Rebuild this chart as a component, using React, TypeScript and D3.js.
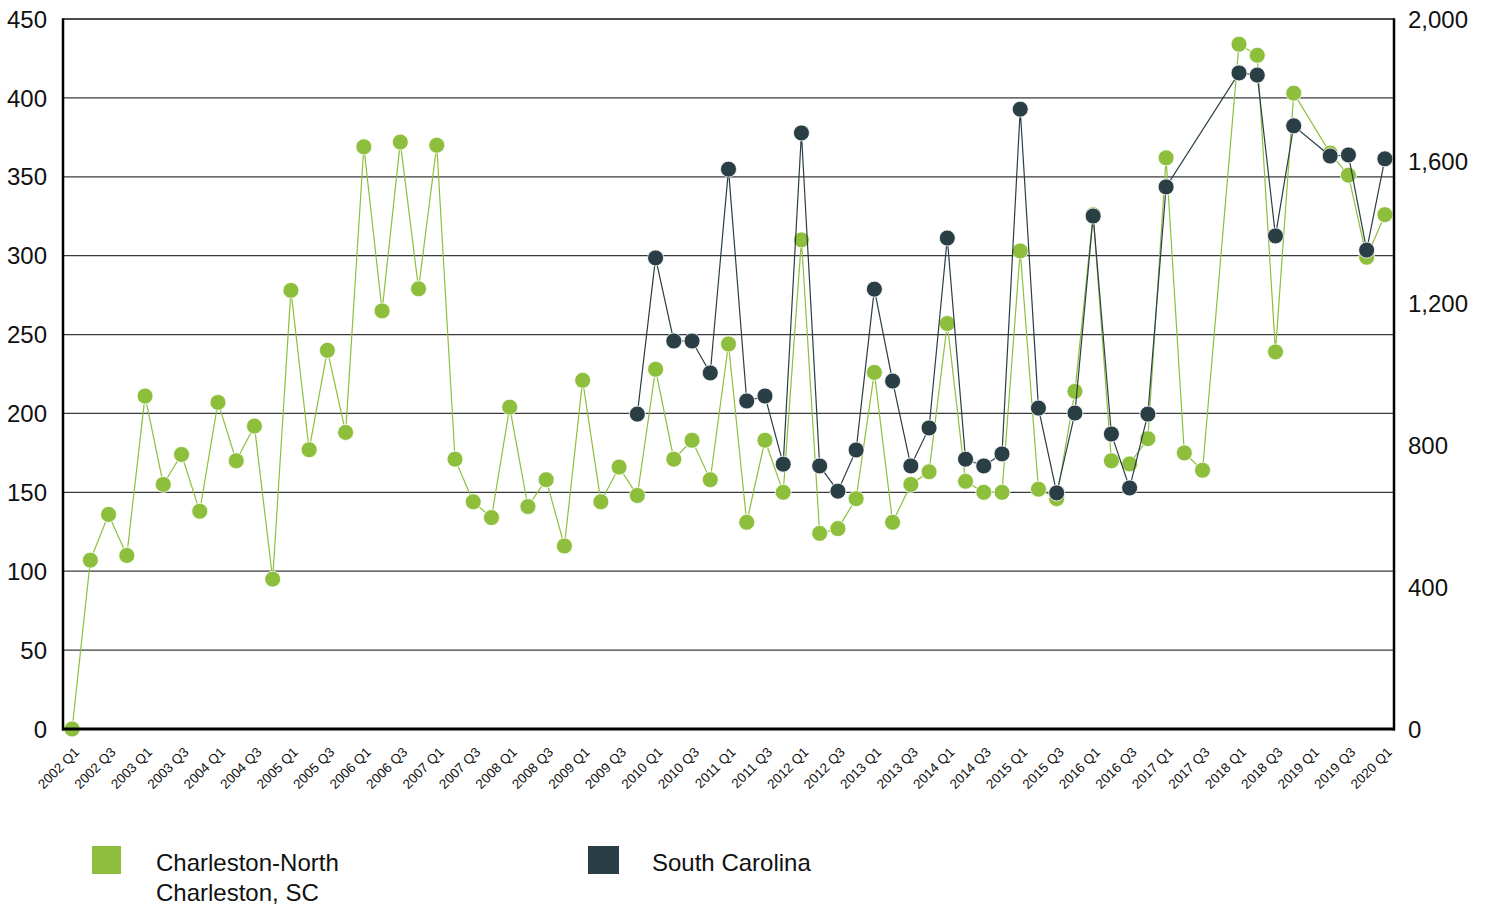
import * as d3 from 'd3';
import React from 'react';

// quarters 2002 Q1 .. 2020 Q1
const years = d3.range(2002, 2021);
const quarters = ['Q1', 'Q2', 'Q3', 'Q4'];
const categories: string[] = years
    .flatMap((y) => quarters.map((q) => `${y} ${q}`))
    .filter((c) => c <= '2020 Q1');

// Charleston-North Charleston, SC (left axis)
const charleston: (number | null)[] = [
    0, 107, 136, 110, 211, 155, 174, 138, 207, 170, 192, 95,
    278, 177, 240, 188, 369, 265, 372, 279, 370, 171, 144, 134,
    204, 141, 158, 116, 221, 144, 166, 148, 228, 171, 183, 158,
    244, 131, 183, 150, 310, 124, 127, 146, 226, 131, 155, 163,
    257, 157, 150, 150, 303, 152, 146, 214, 326, 170, 168, 184,
    362, 175, 164, null, 434, 427, 239, 403, null, 365, 351, 299,
    326,
];

// South Carolina (right axis)
const southCarolina: (number | null)[] = [
    null, null, null, null, null, null, null, null, null, null, null, null,
    null, null, null, null, null, null, null, null, null, null, null, null,
    null, null, null, null, null, null, null, 887, 1327, 1093, 1093, 1003,
    1577, 924, 938, 746, 1679, 741, 670, 786, 1239, 980, 741, 848,
    1383, 760, 741, 775, 1746, 904, 665, 890, 1445, 831, 679, 887,
    1527, null, null, null, 1848, 1842, 1389, 1699, null, 1614, 1617, 1349,
    1606,
];

const leftTicks = [0, 50, 100, 150, 200, 250, 300, 350, 400, 450];
const rightTicks = [0, 400, 800, 1200, 1600, 2000];

const GREEN = '#8dbf3d';
const DARK = '#2a3e46';
const FONT = 'Liberation Sans, Arial, sans-serif';

type Pt = { c: string; v: number };

const App: React.FC = () => {
    const width = 1486;
    const height = 907;
    const left = 63;
    const right = 1394;
    const top = 19;
    const bottom = 729;

    const x = d3.scalePoint<string>().domain(categories).range([left, right]).padding(0.5);
    const yL = d3.scaleLinear().domain([0, 450]).range([bottom, top]);
    const yR = d3.scaleLinear().domain([0, 2000]).range([bottom, top]);

    const pts = (arr: (number | null)[]): Pt[] =>
        arr
            .map((v, i) => ({ c: categories[i], v }))
            .filter((d): d is Pt => d.v !== null && d.v !== undefined);

    const gPts = pts(charleston);
    const sPts = pts(southCarolina);

    const lineL = d3
        .line<Pt>()
        .x((d) => x(d.c) ?? 0)
        .y((d) => yL(d.v));
    const lineR = d3
        .line<Pt>()
        .x((d) => x(d.c) ?? 0)
        .y((d) => yR(d.v));

    const fmt = d3.format(',');

    return (
        <svg
            width={width}
            height={height}
            style={{ position: 'absolute', left: 0, top: 0, background: '#fff' }}
            fontFamily={FONT}
        >
            {/* gridlines */}
            {leftTicks.slice(1, -1).map((t) => (
                <line key={t} x1={left} x2={right} y1={yL(t)} y2={yL(t)} stroke="#3a3a3a" strokeWidth={1.2} />
            ))}
            <line x1={left} x2={right} y1={top} y2={top} stroke="#111" strokeWidth={1.6} />

            {/* left labels */}
            {leftTicks.map((t) => (
                <text key={t} x={47} y={yL(t)} dy="0.36em" textAnchor="end" fontSize={24} fill="#111">
                    {t}
                </text>
            ))}
            {/* right labels */}
            {rightTicks.map((t) => (
                <text key={t} x={1408} y={yR(t)} dy="0.36em" textAnchor="start" fontSize={24} fill="#111">
                    {fmt(t)}
                </text>
            ))}

            {/* x labels */}
            {categories.map((c, i) =>
                i % 2 === 0 ? (
                    <text
                        key={c}
                        transform={`translate(${(x(c) ?? 0) + 8},${bottom + 24}) rotate(-45)`}
                        textAnchor="end"
                        fontSize={13.5}
                        fill="#111"
                    >
                        {c}
                    </text>
                ) : null
            )}

            {/* Charleston */}
            <path d={lineL(gPts) ?? ''} fill="none" stroke={GREEN} strokeWidth={1.2} />
            {gPts.map((d) => (
                <circle key={d.c} cx={x(d.c)} cy={yL(d.v)} r={8} fill={GREEN} stroke="#fff" strokeWidth={0.8} />
            ))}

            {/* South Carolina */}
            <path d={lineR(sPts) ?? ''} fill="none" stroke={DARK} strokeWidth={1.2} />
            {sPts.map((d) => (
                <circle key={d.c} cx={x(d.c)} cy={yR(d.v)} r={8} fill={DARK} stroke="#fff" strokeWidth={0.8} />
            ))}

            {/* axes frame */}
            <line x1={left} x2={left} y1={top - 0.8} y2={bottom + 1.5} stroke="#000" strokeWidth={2.5} />
            <line x1={right} x2={right} y1={top - 0.8} y2={bottom + 1.5} stroke="#000" strokeWidth={2.5} />
            <line x1={left - 1} x2={right + 1} y1={bottom} y2={bottom} stroke="#000" strokeWidth={3} />

            {/* legend */}
            <rect x={92} y={846} width={29} height={28} fill={GREEN} />
            <text x={156} y={871} fontSize={24} fill="#111">Charleston-North</text>
            <text x={156} y={901} fontSize={24} fill="#111">Charleston, SC</text>
            <rect x={588} y={846} width={31} height={28} fill={DARK} />
            <text x={652} y={871} fontSize={24} fill="#111">South Carolina</text>
        </svg>
    );
};

export default App;
